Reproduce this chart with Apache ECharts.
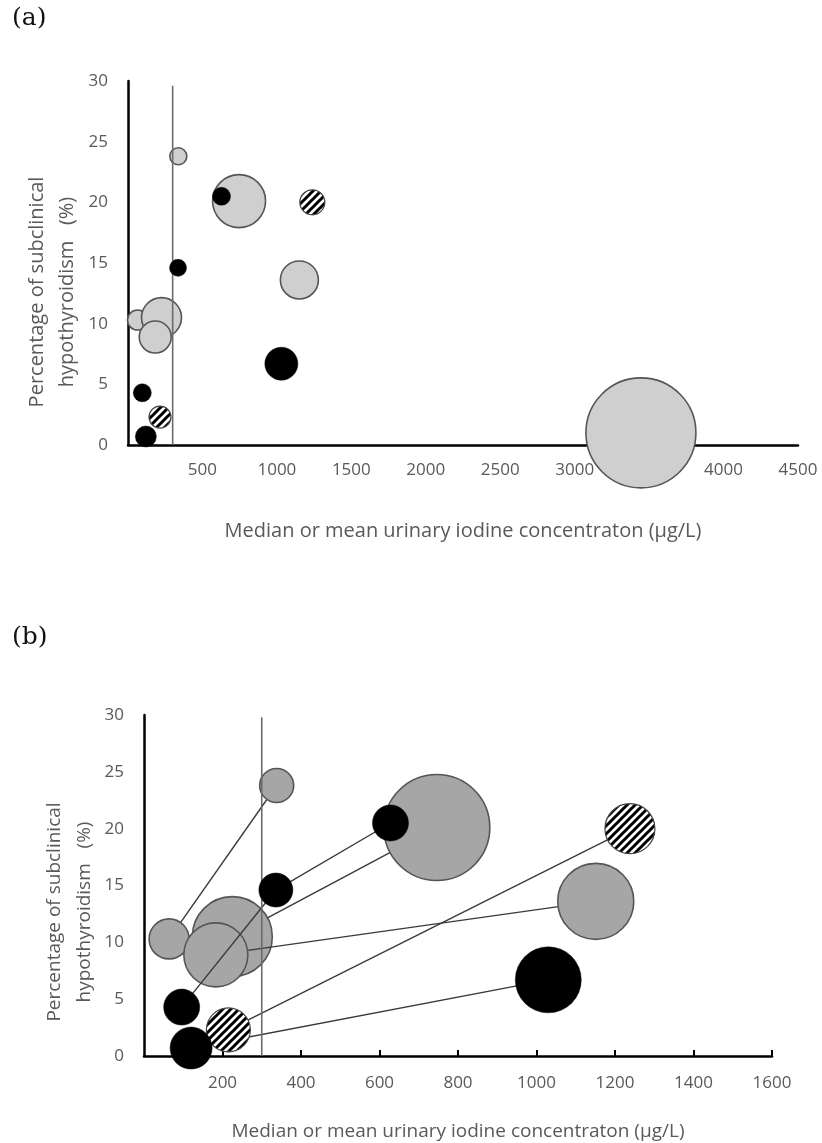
<!DOCTYPE html>
<html>
<head>
<meta charset="utf-8">
<script src="https://cdn.jsdelivr.net/npm/echarts@6/dist/echarts.min.js"></script>
<style>
html,body{margin:0;padding:0;background:#fff;}
#chart{width:822px;height:1143px;}
</style>
</head>
<body>
<div id="chart"></div>
<script>
// ---- data ----
// urinary iodine concentration (µg/L)
const uic = [64, 225, 183, 338, 336, 628, 96, 120, 215, 746, 1238, 1151, 1030, 3445];
// percentage of subclinical hypothyroidism (%)
const pctSCH = [10.3, 10.5, 8.9, 23.8, 14.6, 20.5, 4.3, 0.7, 2.3, 20.1, 20.0, 13.6, 6.7, 1.0];
// relative bubble magnitude
const bubble = [20, 40, 32, 17, 17, 18, 18, 21, 22, 53, 25, 38, 33, 110];
// group of each study: gray / black / hatched
const group = ['gray','gray','gray','gray','black','black','black','black','hatch','gray','hatch','gray','black','gray'];
// pairs of studies joined by a line in panel (b)
const links = [[0,3],[1,9],[4,5],[8,10],[7,12]];
const linkMid = [[2,11]];
const linkTop = [[6,4]];
const refUIC = 300;
const xTicksA = [0, 4500, 500];
const xTicksB = [0, 1600, 200];
const yTicks = [0, 30, 5];

// ---- styles ----
const FONT = 'Open Sans';
const LABEL = '#595959';
const GRAY_A = '#d0cfd0';
const GRAY_B = '#a6a6a6';
const EDGE = '#555555';

function hatchPattern() {
  const s = 8;
  const c = document.createElement('canvas');
  c.width = s; c.height = s;
  const g = c.getContext('2d');
  g.fillStyle = '#fff'; g.fillRect(0,0,s,s);
  g.strokeStyle = '#000'; g.lineWidth = 3;
  g.beginPath();
  g.moveTo(-s/2, s/2); g.lineTo(s/2, -s/2);
  g.moveTo(0, s); g.lineTo(s, 0);
  g.moveTo(s/2, s*1.5); g.lineTo(s*1.5, s/2);
  g.stroke();
  return c;
}
const hatch = {image: hatchPattern(), repeat: 'repeat'};

function pts(filterFn, maxX) {
  const out = [];
  uic.forEach((x, i) => {
    if (filterFn(i) && x <= maxX) out.push([x, pctSCH[i], bubble[i]]);
  });
  return out;
}
function linkData(arr) {
  return arr.map(p => ({coords: [[uic[p[0]], pctSCH[p[0]]], [uic[p[1]], pctSCH[p[1]]]]}));
}

function bubbleSeries(gi, data, scale, style, z) {
  return {
    type: 'scatter', xAxisIndex: gi, yAxisIndex: gi, z: z,
    data: data,
    symbol: 'circle',
    symbolSize: v => v[2] * 2 * scale,
    itemStyle: Object.assign({opacity: 1}, style),
    emphasis: {disabled: true},
    silent: true
  };
}
function hatchSeries(gi, data, scale, z) {
  return {
    type: 'custom', xAxisIndex: gi, yAxisIndex: gi, z: z, silent: true,
    data: data,
    renderItem: function (params, api) {
      const p = api.coord([api.value(0), api.value(1)]);
      const r = api.value(2) * scale;
      return {
        type: 'circle',
        shape: {cx: p[0], cy: p[1], r: r},
        style: {fill: hatch, stroke: '#444', lineWidth: 1.2}
      };
    }
  };
}
function refSeries(gi, top) {
  return {
    type: 'line', xAxisIndex: gi, yAxisIndex: gi, z: 5,
    data: [[refUIC, 0], [refUIC, top]],
    symbol: 'none', silent: true,
    lineStyle: {color: '#6b6b6b', width: 1.6}
  };
}
function linkSeries(arr, z) {
  return {
    type: 'lines', coordinateSystem: 'cartesian2d', xAxisIndex: 1, yAxisIndex: 1, z: z,
    data: linkData(arr), silent: true,
    lineStyle: {color: '#3a3a3a', width: 1.4, opacity: 1}
  };
}

const grayStyle = c => ({color: c, borderColor: EDGE, borderWidth: 1.6});
const blackStyle = {color: '#000', borderColor: '#000', borderWidth: 0.5};

function xAxis(gi, t, name, nameGap, nameSize, showTicks, margin) {
  return {
    type: 'value', gridIndex: gi, min: t[0], max: t[1], interval: t[2],
    axisLine: {show: true, onZero: false, lineStyle: {color: '#000', width: 2.5}},
    axisTick: {show: showTicks, inside: true, length: 6, lineStyle: {color: '#000', width: 2}},
    splitLine: {show: false},
    axisLabel: {color: LABEL, fontFamily: FONT, fontSize: 17, margin: margin, showMinLabel: false,
                formatter: v => String(v)},
    name: name, nameLocation: 'middle', nameGap: nameGap,
    nameTextStyle: {color: LABEL, fontFamily: FONT, fontSize: nameSize}
  };
}
function yAxis(gi) {
  return {
    type: 'value', gridIndex: gi, min: yTicks[0], max: yTicks[1], interval: yTicks[2],
    axisLine: {show: true, onZero: false, lineStyle: {color: '#000', width: 2.5}},
    axisTick: {show: false},
    splitLine: {show: false},
    axisLabel: {color: LABEL, fontFamily: FONT, fontSize: 17, margin: 20, formatter: v => String(v)}
  };
}

const yTitle = 'Percentage of subclinical\nhypothyroidism   (%)';

const option = {
  animation: false,
  backgroundColor: '#fff',
  grid: [
    {left: 128, top: 81, width: 670, height: 364},
    {left: 144, top: 715, width: 628, height: 341}
  ],
  xAxis: [
    xAxis(0, xTicksA, 'Median or mean urinary iodine concentraton (\u03bcg/L)', 76, 20, false, 17),
    xAxis(1, xTicksB, 'Median or mean urinary iodine concentraton (\u03bcg/L)', 66, 19, true, 19)
  ],
  yAxis: [yAxis(0), yAxis(1)],
  graphic: [
    {type: 'text', left: 12, top: 6, style: {text: '(a)', font: '25px "DejaVu Serif"', fill: '#111'}},
    {type: 'text', left: 12, top: 625, style: {text: '(b)', font: '25px "DejaVu Serif"', fill: '#111'}},
    {type: 'text', x: 52, y: 292, rotation: Math.PI/2,
     style: {text: yTitle, font: '20px "Open Sans"', fill: LABEL, align: 'center', verticalAlign: 'middle', lineHeight: 30}},
    {type: 'text', x: 70, y: 912, rotation: Math.PI/2,
     style: {text: yTitle, font: '19px "Open Sans"', fill: LABEL, align: 'center', verticalAlign: 'middle', lineHeight: 30}}
  ],
  series: [
    // panel (a)
    bubbleSeries(0, pts(i => group[i] === 'gray', 4500), 0.5, grayStyle(GRAY_A), 2),
    refSeries(0, 29.6),
    hatchSeries(0, pts(i => group[i] === 'hatch', 4500), 0.5, 6),
    bubbleSeries(0, pts(i => group[i] === 'black', 4500), 0.5, blackStyle, 7),
    // panel (b)
    linkSeries(links, 1),
    bubbleSeries(1, pts(i => i === 1, 1600), 1, grayStyle(GRAY_B), 2),
    linkSeries(linkMid, 3),
    bubbleSeries(1, pts(i => group[i] === 'gray' && i !== 1, 1600), 1, grayStyle(GRAY_B), 4),
    refSeries(1, 29.8),
    linkSeries(linkTop, 5),
    hatchSeries(1, pts(i => group[i] === 'hatch', 1600), 1, 6),
    bubbleSeries(1, pts(i => group[i] === 'black', 1600), 1, blackStyle, 7)
  ]
};

const chart = echarts.init(document.getElementById('chart'), null, {renderer: 'canvas'});
chart.setOption(option);
</script>
</body>
</html>
